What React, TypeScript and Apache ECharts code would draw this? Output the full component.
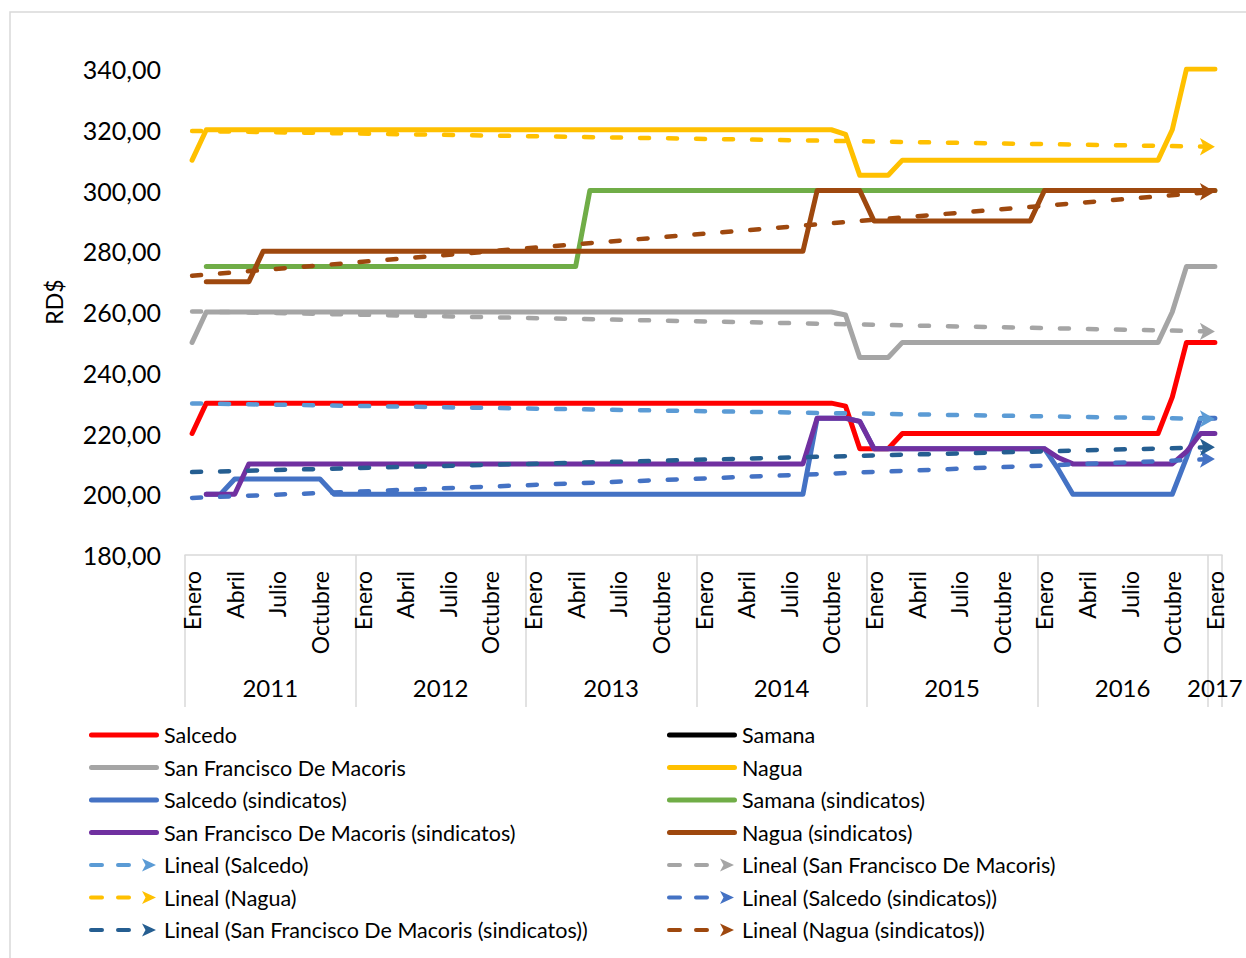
import React, { useEffect, useRef } from 'react';
import * as echarts from 'echarts';

const FONT = 'Lato';

const MONTHS = ['Enero', 'Febrero', 'Marzo', 'Abril', 'Mayo', 'Junio', 'Julio', 'Agosto', 'Septiembre', 'Octubre', 'Noviembre', 'Diciembre'];
const YEARS = ['2011', '2012', '2013', '2014', '2015', '2016', '2017'];
const SHOWN_MONTHS = ['Enero', 'Abril', 'Julio', 'Octubre'];

const Y_MIN = 180;
const Y_MAX = 340;
const Y_STEP = 20;

// Monthly values, Jan 2011 .. Jan 2017 (73 points), one row per year
const salcedo: (number | null)[] = [
  220, 230, 230, 230, 230, 230, 230, 230, 230, 230, 230, 230,
  230, 230, 230, 230, 230, 230, 230, 230, 230, 230, 230, 230,
  230, 230, 230, 230, 230, 230, 230, 230, 230, 230, 230, 230,
  230, 230, 230, 230, 230, 230, 230, 230, 230, 230, 229, 215,
  215, 215, 220, 220, 220, 220, 220, 220, 220, 220, 220, 220,
  220, 220, 220, 220, 220, 220, 220, 220, 220, 232, 250, 250,
  250,
];
const samana: (number | null)[] = [];
const sanFrancisco: (number | null)[] = [
  250, 260, 260, 260, 260, 260, 260, 260, 260, 260, 260, 260,
  260, 260, 260, 260, 260, 260, 260, 260, 260, 260, 260, 260,
  260, 260, 260, 260, 260, 260, 260, 260, 260, 260, 260, 260,
  260, 260, 260, 260, 260, 260, 260, 260, 260, 260, 259, 245,
  245, 245, 250, 250, 250, 250, 250, 250, 250, 250, 250, 250,
  250, 250, 250, 250, 250, 250, 250, 250, 250, 260, 275, 275,
  275,
];
const nagua: (number | null)[] = [
  310, 320, 320, 320, 320, 320, 320, 320, 320, 320, 320, 320,
  320, 320, 320, 320, 320, 320, 320, 320, 320, 320, 320, 320,
  320, 320, 320, 320, 320, 320, 320, 320, 320, 320, 320, 320,
  320, 320, 320, 320, 320, 320, 320, 320, 320, 320, 318.5, 305,
  305, 305, 310, 310, 310, 310, 310, 310, 310, 310, 310, 310,
  310, 310, 310, 310, 310, 310, 310, 310, 310, 320, 340, 340,
  340,
];
const salcedoSind: (number | null)[] = [
  null, 200, 200, 205, 205, 205, 205, 205, 205, 205, 200, 200,
  200, 200, 200, 200, 200, 200, 200, 200, 200, 200, 200, 200,
  200, 200, 200, 200, 200, 200, 200, 200, 200, 200, 200, 200,
  200, 200, 200, 200, 200, 200, 200, 200, 225, 225, 225, 224,
  215, 215, 215, 215, 215, 215, 215, 215, 215, 215, 215, 215,
  215, 208, 200, 200, 200, 200, 200, 200, 200, 200, 212, 225,
  225,
];
const samanaSind: (number | null)[] = [
  null, 275, 275, 275, 275, 275, 275, 275, 275, 275, 275, 275,
  275, 275, 275, 275, 275, 275, 275, 275, 275, 275, 275, 275,
  275, 275, 275, 275, 300, 300, 300, 300, 300, 300, 300, 300,
  300, 300, 300, 300, 300, 300, 300, 300, 300, 300, 300, 300,
  300, 300, 300, 300, 300, 300, 300, 300, 300, 300, 300, 300,
  300, 300, 300, 300, 300, 300, 300, 300, 300, 300, 300, 300,
  300,
];
const sanFranciscoSind: (number | null)[] = [
  null, 200, 200, 200, 210, 210, 210, 210, 210, 210, 210, 210,
  210, 210, 210, 210, 210, 210, 210, 210, 210, 210, 210, 210,
  210, 210, 210, 210, 210, 210, 210, 210, 210, 210, 210, 210,
  210, 210, 210, 210, 210, 210, 210, 210, 225, 225, 225, 224,
  215, 215, 215, 215, 215, 215, 215, 215, 215, 215, 215, 215,
  215, 212, 210, 210, 210, 210, 210, 210, 210, 210, 214, 220,
  220,
];
const naguaSind: (number | null)[] = [
  null, 270, 270, 270, 270, 280, 280, 280, 280, 280, 280, 280,
  280, 280, 280, 280, 280, 280, 280, 280, 280, 280, 280, 280,
  280, 280, 280, 280, 280, 280, 280, 280, 280, 280, 280, 280,
  280, 280, 280, 280, 280, 280, 280, 280, 300, 300, 300, 300,
  290, 290, 290, 290, 290, 290, 290, 290, 290, 290, 290, 290,
  300, 300, 300, 300, 300, 300, 300, 300, 300, 300, 300, 300,
  300,
];

const seriesNames = [
  'Salcedo', 'Samana', 'San Francisco De Macoris', 'Nagua',
  'Salcedo (sindicatos)', 'Samana (sindicatos)', 'San Francisco De Macoris (sindicatos)', 'Nagua (sindicatos)',
];
const seriesData = [salcedo, samana, sanFrancisco, nagua, salcedoSind, samanaSind, sanFranciscoSind, naguaSind];
const seriesColors = ['#FF0000', '#000000', '#A5A5A5', '#FFC000', '#4472C4', '#70AD47', '#7030A0', '#9E480E'];

// Linear trend lines: value read at first (Jan 2011) and last (Jan 2017) month
const trendNames = [
  'Lineal (Salcedo)', 'Lineal (San Francisco De Macoris)', 'Lineal (Nagua)',
  'Lineal (Salcedo (sindicatos))', 'Lineal (San Francisco De Macoris (sindicatos))', 'Lineal (Nagua (sindicatos))',
];
const trendStart = [229.9, 260.2, 319.6, 198.8, 207.3, 271.9];
const trendEnd = [224.8, 253.6, 314.4, 211.6, 215.5, 299.6];
const trendColors = ['#5B9BD5', '#A5A5A5', '#FFC000', '#4472C4', '#255E91', '#9E480E'];

const SOLID_ICON = 'path://M0 0L0 0ZM70 14L70 14ZM2.5 4.5H67.5A2.5 2.5 0 0 1 67.5 9.5H2.5A2.5 2.5 0 0 1 2.5 4.5Z';
const DASH_ICON = 'path://M0 0L0 0ZM70 14L70 14ZM2 5H13A2 2 0 0 1 13 9H2A2 2 0 0 1 2 5ZM29 5H40A2 2 0 0 1 40 9H29A2 2 0 0 1 29 5ZM53 0.5L67 7L53 13.5L56.5 7Z';

export default function App() {
  const ref = useRef<HTMLDivElement>(null);

  useEffect(() => {
    document.body.style.margin = '0';
    const chart = echarts.init(ref.current!, null, { renderer: 'svg' });

    const nMonths = (YEARS.length - 1) * 12 + 1;
    const categories: string[] = [];
    for (let i = 0; i < nMonths; i++) categories.push(MONTHS[i % 12]);

    // half-month grid so that year labels sit at group centres and ticks at group borders
    const halfCount = nMonths * 2 + 1;
    const yearCats: string[] = [];
    for (let k = 0; k < halfCount; k++) yearCats.push('');
    YEARS.forEach((y, yi) => {
      const startMonth = yi * 12;
      const endMonth = Math.min(startMonth + 12, nMonths);
      yearCats[startMonth + endMonth] = y;
    });
    const borderIdx = new Set<number>();
    YEARS.forEach((_, yi) => borderIdx.add(yi * 24));
    borderIdx.add(halfCount - 1);

    const solidSeries = seriesNames.map((name, i) => ({
      name,
      type: 'line',
      data: seriesData[i],
      color: seriesColors[i],
      symbol: 'none',
      connectNulls: false,
      lineStyle: { width: 5, color: seriesColors[i], cap: 'round', join: 'round' },
      itemStyle: { color: seriesColors[i] },
      emphasis: { disabled: true },
      silent: true,
    }));

    const trendSeries = trendNames.map((name, i) => ({
      name,
      type: 'line',
      color: trendColors[i],
      symbol: 'none',
      data: [
        [0, trendStart[i]],
        { value: [nMonths - 1, trendEnd[i]], symbol: 'arrow', symbolSize: [13, 15], symbolRotate: -90 },
      ],
      lineStyle: { width: 4.5, color: trendColors[i], type: [9, 19], cap: 'round' },
      itemStyle: { color: trendColors[i] },
      emphasis: { disabled: true },
      silent: true,
    }));

    const iconFor = (n: string) => (n.startsWith('Lineal') ? DASH_ICON : SOLID_ICON);
    const allNames = [...seriesNames, ...trendNames];
    const leftNames = allNames.filter((_, i) => i % 2 === 0);
    const rightNames = allNames.filter((_, i) => i % 2 === 1);

    const legendBase = {
      orient: 'vertical',
      top: 724,
      padding: 0,
      itemWidth: 70,
      itemHeight: 14,
      itemGap: 10.5,
      selectedMode: false,
      symbolKeepAspect: true,
      itemStyle: { borderWidth: 0 },
      textStyle: { fontFamily: FONT, fontSize: 21.5, color: '#000', lineHeight: 22 },
    };

    const option = {
      animation: false,
      textStyle: { fontFamily: FONT },
      grid: { left: 185, right: 24, top: 69, bottom: 403, containLabel: false, outerBoundsMode: 'none' },
      graphic: [
        {
          type: 'rect',
          silent: true,
          shape: { x: 10, y: 12, width: 1400, height: 1100 },
          style: { fill: 'none', stroke: '#d9d9d9', lineWidth: 1.5 },
        },
      ],
      legend: [
        { ...legendBase, left: 89, data: leftNames.map((name) => ({ name, icon: iconFor(name) })) },
        { ...legendBase, left: 667, data: rightNames.map((name) => ({ name, icon: iconFor(name) })) },
      ],
      xAxis: [
        {
          type: 'category',
          data: categories,
          boundaryGap: true,
          position: 'bottom',
          axisLine: { show: true, lineStyle: { color: '#d9d9d9', width: 1.5 } },
          axisTick: { show: false },
          axisLabel: {
            rotate: 90,
            interval: (_i: number, v: string) => SHOWN_MONTHS.includes(v),
            fontSize: 23,
            margin: 16,
            color: '#000',
            fontFamily: FONT,
          },
          splitLine: { show: false },
        },
        {
          type: 'category',
          data: yearCats,
          boundaryGap: false,
          position: 'bottom',
          axisLine: { show: false },
          axisTick: {
            show: true,
            interval: (i: number) => borderIdx.has(i),
            length: 152,
            lineStyle: { color: '#d9d9d9', width: 1.5 },
          },
          axisLabel: {
            interval: (_i: number, v: string) => v !== '',
            fontSize: 24,
            margin: 120,
            color: '#000',
            fontFamily: FONT,
          },
          splitLine: { show: false },
        },
      ],
      yAxis: {
        type: 'value',
        min: Y_MIN,
        max: Y_MAX,
        interval: Y_STEP,
        name: 'RD$',
        nameLocation: 'middle',
        nameRotate: 90,
        nameGap: 120,
        nameTextStyle: { fontSize: 23, color: '#000', fontFamily: FONT, padding: [0, 0, 0, 20] },
        axisLine: { show: false },
        axisTick: { show: false },
        splitLine: { show: false },
        axisLabel: {
          fontSize: 25,
          margin: 24,
          color: '#000',
          fontFamily: FONT,
          formatter: (v: number) => v.toFixed(2).replace('.', ','),
        },
      },
      series: [...solidSeries, ...trendSeries],
    };

    chart.setOption(option as any);
    return () => chart.dispose();
  }, []);

  return <div ref={ref} style={{ width: 1246, height: 958 }} />;
}
